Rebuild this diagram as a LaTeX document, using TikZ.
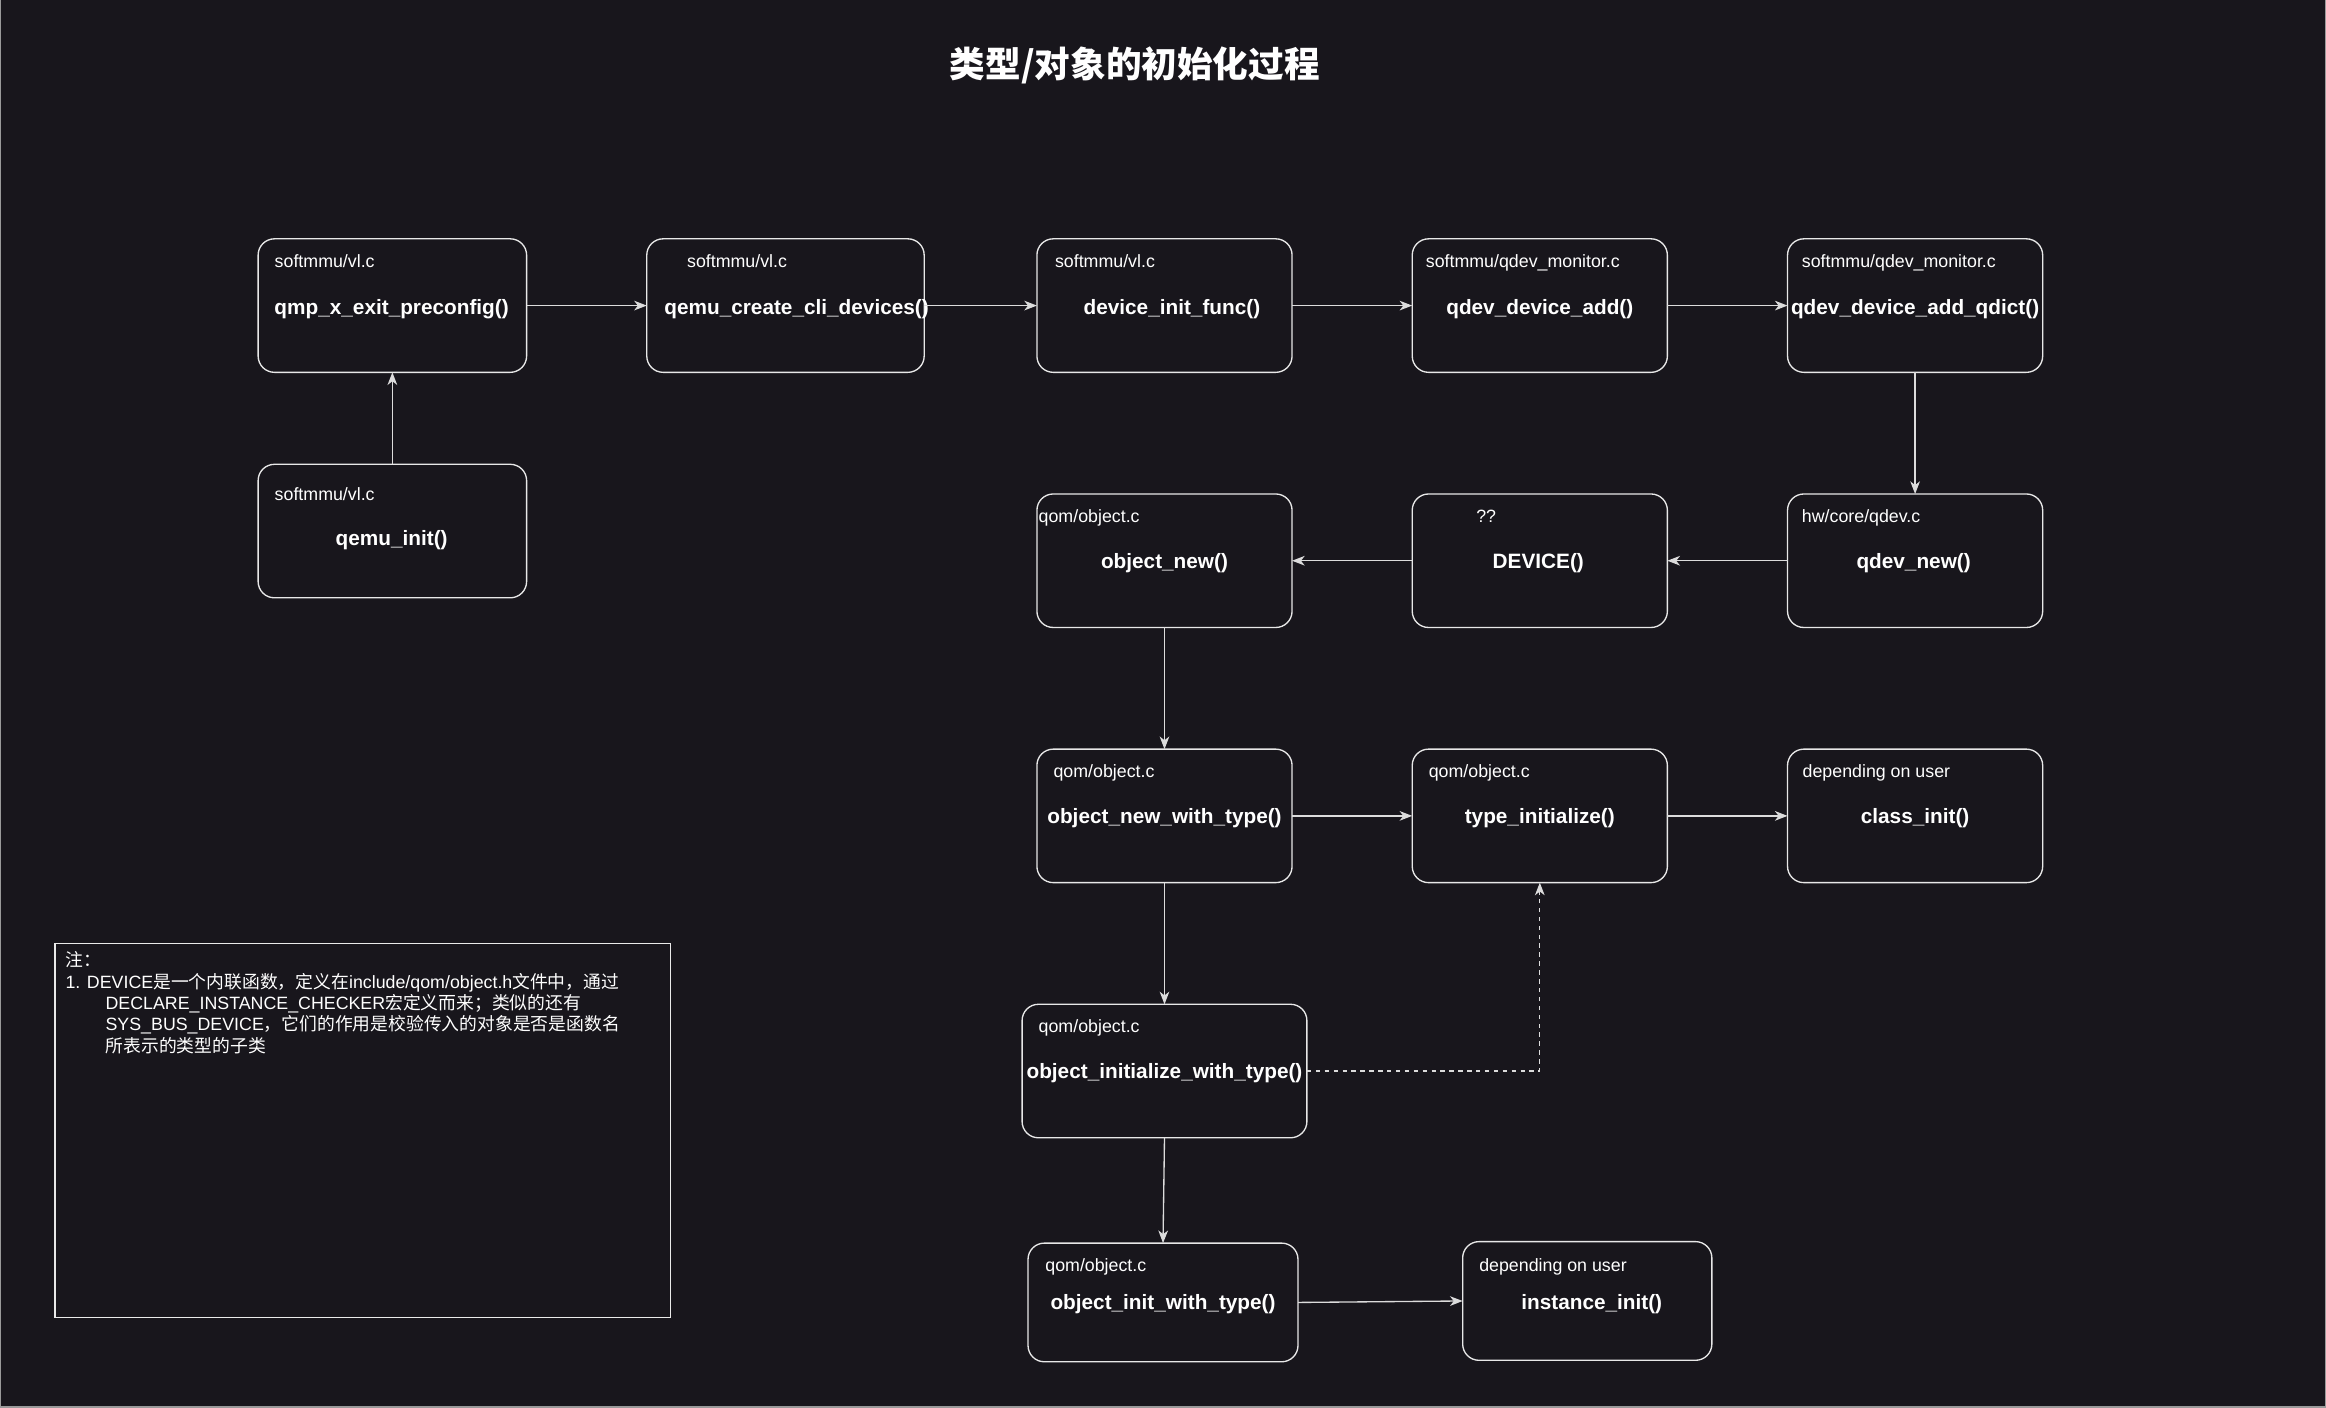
\documentclass[tikz,border=0pt]{standalone}
\usepackage{fontspec}
\setmainfont{Liberation Sans}
\newfontfamily\cjk{Noto Sans CJK SC}
\usetikzlibrary{arrows.meta}
\definecolor{bg}{HTML}{18161C}
\definecolor{edge}{HTML}{E8E8E8}
\definecolor{wire}{HTML}{DCDCDC}
\definecolor{frame}{HTML}{9A9A9A}
\begin{document}
\begin{tikzpicture}[x=1pt,y=-1pt,
  fbox/.style={draw=edge, line width=0.9pt, rounded corners=11pt, fill=bg, inner sep=0pt, outer sep=0pt, minimum width=172pt, minimum height=90pt},
  notebox/.style={draw=edge!90, line width=1pt, fill=bg, inner sep=0pt, outer sep=0pt},
  flabel/.style={anchor=west, inner sep=0pt, text=white, font=\fontsize{12}{14}\selectfont, text height=8.6pt, text depth=0pt},
  fmain/.style={inner sep=0pt, text=white, font=\fontsize{14}{16}\selectfont\bfseries, text height=10pt, text depth=0pt},
  nline/.style={anchor=base west, inner sep=0pt, text=white, font=\fontsize{12}{14}\selectfont},
  conn/.style={draw=wire, line width=0.9pt, -{Stealth[length=8.5pt, width=6.5pt, inset=2.5pt]}},
  dconn/.style={conn, dash pattern=on 3pt off 3pt}
]
\useasboundingbox (0,0) rectangle (1568,949);
\fill[bg] (0,0) rectangle (1568,949);
\draw[frame, line width=1pt] (0.5,0) -- (0.5,948.5) -- (1567.5,948.5) -- (1567.5,0);

% title
\node[inner sep=0pt, text=white, font={\fontsize{24}{28}\selectfont\cjk\bfseries}] (TITLE) at (765,44) {类型/对象的初始化过程};

% boxes
\node[fbox, minimum width=181pt] (B1) at (264.5,206) {};
\node[fbox, minimum width=187pt] (B2) at (529.5,206) {};
\node[fbox] (B3) at (785,206) {};
\node[fbox] (B4) at (1038,206) {};
\node[fbox] (B5) at (1291,206) {};
\node[fbox, minimum width=181pt] (B6) at (264.5,358) {};
\node[fbox] (B7) at (785,378) {};
\node[fbox] (B8) at (1038,378) {};
\node[fbox] (B9) at (1291,378) {};
\node[fbox] (B10) at (785,550) {};
\node[fbox] (B11) at (1038,550) {};
\node[fbox] (B12) at (1291,550) {};
\node[fbox, minimum width=192pt] (B13) at (785,722) {};
\node[fbox, minimum width=182pt, minimum height=80pt] (B14) at (784,878) {};
\node[fbox, minimum width=168pt, minimum height=80pt] (B15) at (1070,877) {};

% labels
\node[flabel] (L1) at (185,176) {softmmu/vl.c};
\node[flabel] (L2) at (463,176) {softmmu/vl.c};
\node[flabel] (L3) at (711,176) {softmmu/vl.c};
\node[flabel] (L4) at (961,176) {softmmu/qdev\_monitor.c};
\node[flabel] (L5) at (1214.5,176) {softmmu/qdev\_monitor.c};
\node[flabel] (L6) at (185,333) {softmmu/vl.c};
\node[flabel] (L7) at (700,348) {qom/object.c};
\node[flabel] (L8) at (995,348) {??};
\node[flabel] (L9) at (1214.5,348) {hw/core/qdev.c};
\node[flabel] (L10) at (710,520) {qom/object.c};
\node[flabel] (L11) at (963,520) {qom/object.c};
\node[flabel] (L12) at (1215,520) {depending on user};
\node[flabel] (L13) at (700,692) {qom/object.c};
\node[flabel] (L14) at (704.5,853) {qom/object.c};
\node[flabel] (L15) at (997,853) {depending on user};

% main texts
\node[fmain] (T1) at (264,207) {qmp\_x\_exit\_preconfig()};
\node[fmain] (T2) at (537,207) {qemu\_create\_cli\_devices()};
\node[fmain] (T3) at (790,207) {device\_init\_func()};
\node[fmain] (T4) at (1038,207) {qdev\_device\_add()};
\node[fmain] (T5) at (1291,207) {qdev\_device\_add\_qdict()};
\node[fmain] (T6) at (264,363) {qemu\_init()};
\node[fmain] (T7) at (785,378) {object\_new()};
\node[fmain] (T8) at (1037,378) {DEVICE()};
\node[fmain] (T9) at (1290,378) {qdev\_new()};
\node[fmain] (T10) at (785,550) {object\_new\_with\_type()};
\node[fmain] (T11) at (1038,550) {type\_initialize()};
\node[fmain] (T12) at (1291,550) {class\_init()};
\node[fmain] (T13) at (785,722) {object\_initialize\_with\_type()};
\node[fmain] (T14) at (784,878) {object\_init\_with\_type()};
\node[fmain] (T15) at (1073,878) {instance\_init()};

% connectors
\draw[conn] (B1) -- (B2);
\draw[conn] (B2) -- (B3);
\draw[conn] (B3) -- (B4);
\draw[conn] (B4) -- (B5);
\draw[conn] (B6) -- (B1);
\draw[conn] (B5) -- (B9);
\draw[conn] (B9) -- (B8);
\draw[conn] (B8) -- (B7);
\draw[conn] (B7) -- (B10);
\draw[conn] (B10) -- (B11);
\draw[conn] (B11) -- (B12);
\draw[conn] (B10) -- (B13);
\draw[conn] (B13.south) -- (B14.north);
\draw[conn] (B14.east) -- (B15.west);
\draw[dconn] (B13.east) -| (B11.south);

% note
\node[notebox, minimum width=415pt, minimum height=252pt] (NOTE) at (244.5,762) {};
\node[nline] (N0) at (44,651.5) {\cjk 注：};
\node[nline] (N1) at (44,666.5) {1. DEVICE{\cjk 是一个内联函数，定义在}include/qom/object.h{\cjk 文件中，通过}};
\node[nline] (N2) at (71,680.5) {DECLARE\_INSTANCE\_CHECKER{\cjk 宏定义而来；类似的还有}};
\node[nline] (N3) at (71,695) {SYS\_BUS\_DEVICE{\cjk ，它们的作用是校验传入的对象是否是函数名}};
\node[nline] (N4) at (71,709.5) {\cjk 所表示的类型的子类};
\end{tikzpicture}
\end{document}
